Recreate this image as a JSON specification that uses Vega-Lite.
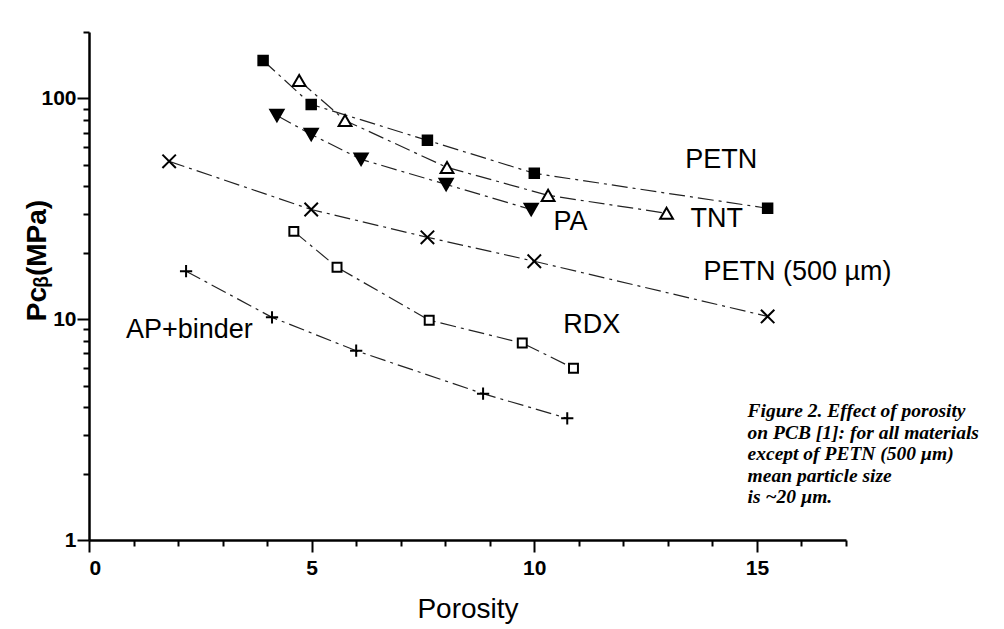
{
  "$schema": "https://vega.github.io/schema/vega-lite/v6.json",
  "autosize": "none",
  "width": 757,
  "height": 508,
  "padding": {"left": 89, "top": 32, "right": 158, "bottom": 89},
  "background": "white",
  "config": {"view": {"stroke": null}, "font": "Liberation Sans"},
  "datasets": {
    "pts": [
      {"series": "PETN", "x": 3.91, "y": 148.6},
      {"series": "PETN", "x": 4.99, "y": 94},
      {"series": "PETN", "x": 7.6, "y": 64.6},
      {"series": "PETN", "x": 10.0, "y": 45.8},
      {"series": "PETN", "x": 15.24, "y": 31.8},
      {"series": "TNT", "x": 4.72, "y": 120.6},
      {"series": "TNT", "x": 5.75, "y": 79.5},
      {"series": "TNT", "x": 8.04, "y": 48.7},
      {"series": "TNT", "x": 10.31, "y": 36.4},
      {"series": "TNT", "x": 12.97, "y": 30.2},
      {"series": "PA", "x": 4.22, "y": 83.8},
      {"series": "PA", "x": 4.99, "y": 68.7},
      {"series": "PA", "x": 6.11, "y": 53.0},
      {"series": "PA", "x": 8.02, "y": 40.8},
      {"series": "PA", "x": 9.93, "y": 31.4},
      {"series": "PETN (500 µm)", "x": 1.8, "y": 51.9},
      {"series": "PETN (500 µm)", "x": 4.99, "y": 31.4},
      {"series": "PETN (500 µm)", "x": 7.6, "y": 23.5},
      {"series": "PETN (500 µm)", "x": 10.0, "y": 18.3},
      {"series": "PETN (500 µm)", "x": 15.24, "y": 10.3},
      {"series": "RDX", "x": 4.6, "y": 25.0},
      {"series": "RDX", "x": 5.57, "y": 17.2},
      {"series": "RDX", "x": 7.64, "y": 9.9},
      {"series": "RDX", "x": 9.73, "y": 7.8},
      {"series": "RDX", "x": 10.88, "y": 6.0},
      {"series": "AP+binder", "x": 2.18, "y": 16.5},
      {"series": "AP+binder", "x": 4.11, "y": 10.2},
      {"series": "AP+binder", "x": 6.0, "y": 7.2},
      {"series": "AP+binder", "x": 8.85, "y": 4.6},
      {"series": "AP+binder", "x": 10.74, "y": 3.56}
    ],
    "labels": [
      {"text": "PETN", "x": 13.39, "y": 48.2},
      {"text": "TNT", "x": 13.51, "y": 26.1},
      {"text": "PA", "x": 10.43, "y": 25.3},
      {"text": "PETN (500 µm)", "x": 13.8, "y": 15.0},
      {"text": "RDX", "x": 10.65, "y": 8.64},
      {"text": "AP+binder", "x": 0.83, "y": 8.2}
    ],
    "caption": [
      {"text": "Figure 2. Effect of porosity\non PCB [1]: for all materials\nexcept of PETN (500 µm)\nmean particle size\nis ~20 µm.", "x": 14.79, "y": 3.6}
    ]
  },
  "encoding": {
    "x": {
      "field": "x", "type": "quantitative",
      "scale": {"domain": [0, 17], "nice": false, "zero": false},
      "axis": {
        "title": "Porosity",
        "titleFont": "Liberation Sans", "titleFontSize": 28, "titleFontWeight": "normal", "titleColor": "black",
        "titleY": 77, "titleBaseline": "alphabetic",
        "values": [0,1,2,3,4,5,6,7,8,9,10,11,12,13,14,15,16,17],
        "labelExpr": "datum.value % 5 === 0 ? datum.label : ''",
        "labelFont": "Liberation Sans", "labelFontSize": 21, "labelFontWeight": "bold", "labelColor": "black",
        "labelPadding": 5,
        "grid": false,
        "domainColor": "black", "domainWidth": 2.5,
        "tickColor": "black", "tickWidth": 2,
        "tickSize": {"condition": {"test": "datum.value % 5 === 0", "value": 12}, "value": 6}
      }
    },
    "y": {
      "field": "y", "type": "quantitative",
      "scale": {"type": "log", "domain": [1, 200], "nice": false},
      "axis": {
        "title": "Pcᵦ(MPa)",
        "titleFont": "Liberation Sans", "titleFontSize": 28, "titleFontWeight": "bold", "titleColor": "black",
        "titleX": -44, "titleY": 228, "titleAngle": -90, "titleAlign": "center", "titleBaseline": "alphabetic",
        "values": [1,2,3,4,5,6,7,8,9,10,20,30,40,50,60,70,80,90,100,200],
        "labelExpr": "(datum.value === 1 || datum.value === 10 || datum.value === 100) ? format(datum.value, 'd') : ''",
        "labelFont": "Liberation Sans", "labelFontSize": 21, "labelFontWeight": "bold", "labelColor": "black",
        "labelPadding": 1,
        "grid": false,
        "domainColor": "black", "domainWidth": 2.5,
        "tickColor": "black", "tickWidth": 2,
        "tickSize": {"condition": {"test": "datum.value === 1 || datum.value === 10 || datum.value === 100", "value": 12}, "value": 6}
      }
    }
  },
  "layer": [
    {
      "data": {"name": "pts"},
      "mark": {"type": "line", "color": "#222", "strokeWidth": 1.2, "strokeDash": [16, 5, 3, 5]},
      "encoding": {"detail": {"field": "series"}}
    },
    {
      "data": {"name": "pts"},
      "mark": {"type": "point", "stroke": "black", "strokeWidth": 2, "opacity": 1},
      "encoding": {
        "shape": {"field": "series", "type": "nominal", "legend": null,
          "scale": {"domain": ["PETN","TNT","PA","PETN (500 µm)","RDX","AP+binder"],
                    "range": ["square","triangle-up","triangle-down","M-1,-1L1,1M-1,1L1,-1","square","M-1,0L1,0M0,-1L0,1"]}},
        "fill": {"field": "series", "type": "nominal", "legend": null,
          "scale": {"domain": ["PETN","TNT","PA","PETN (500 µm)","RDX","AP+binder"],
                    "range": ["black","white","black","transparent","white","transparent"]}},
        "size": {"field": "series", "type": "nominal", "legend": null,
          "scale": {"type": "ordinal", "domain": ["PETN","TNT","PA","PETN (500 µm)","RDX","AP+binder"],
                    "range": [90, 165, 175, 180, 80, 150]}}
      }
    },
    {
      "data": {"name": "labels"},
      "mark": {"type": "text", "align": "left", "baseline": "alphabetic", "font": "Liberation Sans", "fontSize": 27, "color": "black"},
      "encoding": {"text": {"field": "text"}}
    },
    {
      "data": {"name": "caption"},
      "mark": {"type": "text", "align": "left", "baseline": "alphabetic", "font": "Liberation Serif", "fontStyle": "italic", "fontWeight": "bold", "fontSize": 19.5, "lineHeight": 21.5, "lineBreak": "\n", "color": "black"},
      "encoding": {"text": {"field": "text"}}
    }
  ]
}
